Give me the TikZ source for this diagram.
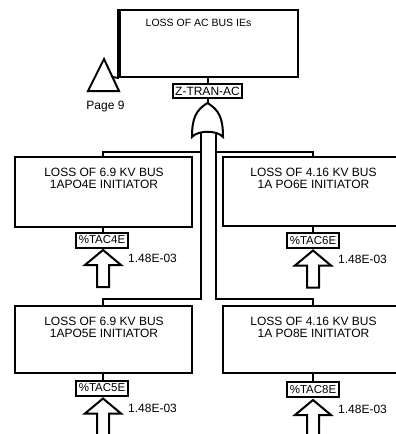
\documentclass[tikz,border=0pt]{standalone}
\usepackage{fontspec}
\setmainfont{Liberation Sans}
\begin{document}
\begin{tikzpicture}[x=1pt,y=-1pt,
  ln/.style={line width=2pt},
  box/.style={draw,line width=2pt,rectangle,inner sep=0pt},
  lbl/.style={draw,line width=2pt,inner sep=0pt,minimum width=52pt,minimum height=15pt,font=\fontsize{11.5}{12}\selectfont},
  txt/.style={font=\fontsize{12}{12}\selectfont,inner sep=0pt,align=center},
  prob/.style={font=\fontsize{12}{12}\selectfont,inner sep=0pt,anchor=west},
  xfer/.style={draw,line width=2pt,fill=white}
]
\useasboundingbox (0,0) rectangle (396,434);
\clip (0,0) rectangle (396,434);

% top event
\node[box,minimum width=178pt,minimum height=67pt] (top) at (209,43.5) {};
\draw[line width=3.2pt] (top.north west) -- (top.south west);
\node[txt,font=\fontsize{10.5}{12}\selectfont] (toptxt) at (198.5,23) {LOSS OF AC BUS IEs};

% transfer triangle
\coordinate (tri) at (104,59);
\draw[ln,line join=miter] (tri) -- (119,91) -- (88,91) -- cycle;
\coordinate (trim) at (112,77);
\draw[ln] (top.south west) -- (trim);
\node[txt] (pg) at (105.5,107) {Page 9};

% gate label
\node[lbl,minimum width=69pt,minimum height=14pt,font=\fontsize{12}{12}\selectfont] (ztran) at (207.5,91) {Z-TRAN-AC};
\draw[ln] (ztran.north) -- (ztran.north |- top.south);

% OR gate
\coordinate (gtop) at (207.5,103);
\draw[ln,fill=white] (gtop) .. controls (196,110) and (192,118) .. (192,137)
  .. controls (198,130) and (217,130) .. (223,137)
  .. controls (223,118) and (219,110) .. (gtop);
\draw[ln] (ztran.south) -- (gtop);
\coordinate (bl) at (201,132.5);
\coordinate (br) at (216,132.5);

% event boxes
\node[box,minimum width=177pt,minimum height=70pt] (A) at (103.5,192) {};
\node[box,minimum width=207pt,minimum height=69pt] (B) at (326.5,191.5) {};
\node[box,minimum width=177pt,minimum height=67pt] (C) at (103.5,339.5) {};
\node[box,minimum width=207pt,minimum height=67pt] (D) at (326.5,339.5) {};

\node[txt] (At) at (104,178) {LOSS OF 6.9 KV BUS\\1APO4E INITIATOR};
\node[txt] (Bt) at (313.5,178) {LOSS OF 4.16 KV BUS\\1A PO6E INITIATOR};
\node[txt] (Ct) at (104,327) {LOSS OF 6.9 KV BUS\\1APO5E INITIATOR};
\node[txt] (Dt) at (313.5,327) {LOSS OF 4.16 KV BUS\\1A PO8E INITIATOR};

% basic event labels
\node[lbl] (lA) at (102,240) {\%TAC4E};
\node[lbl] (lB) at (313,240.5) {\%TAC6E};
\node[lbl] (lC) at (102,388) {\%TAC5E};
\node[lbl] (lD) at (313,389.5) {\%TAC8E};

% arrow tips
\coordinate (tA) at (103,250);
\coordinate (tB) at (313,250.5);
\coordinate (tC) at (103,398.5);
\coordinate (tD) at (313,400);

\draw[ln] (A.south -| tA) -- (lA.north -| tA);
\draw[ln] (B.south -| lB) -- (lB.north);
\draw[ln] (C.south -| tC) -- (lC.north -| tC);
\draw[ln] (D.south -| lD) -- (lD.north);

% bus connectors
\coordinate (jA) at (201,152);
\coordinate (jC) at (201,299);
\coordinate (jB) at (216,152);
\coordinate (jD) at (216,299);
\draw[ln] (bl) -- (jC) -| (tC |- C.north);
\draw[ln] (jA) -| (tA |- A.north);
\draw[ln] (br) -- (jD) -| (lD |- D.north);
\draw[ln] (jB) -| (lB |- B.north);

% hollow input arrows
\draw[xfer] (tA) -- ++(18,15) -- ++(-12,0) -- ++(0,22) -- ++(-12,0) -- ++(0,-22) -- ++(-12,0) -- cycle;
\draw[xfer] (tB) -- ++(18,15) -- ++(-12,0) -- ++(0,22) -- ++(-12,0) -- ++(0,-22) -- ++(-12,0) -- cycle;
\draw[xfer] (tC) -- ++(18,15) -- ++(-12,0) -- ++(0,30) -- ++(-12,0) -- ++(0,-30) -- ++(-12,0) -- cycle;
\draw[xfer] (tD) -- ++(18,15) -- ++(-12,0) -- ++(0,30) -- ++(-12,0) -- ++(0,-30) -- ++(-12,0) -- cycle;

\node[prob] (pA) at (128,258) {1.48E-03};
\node[prob] (pB) at (338,259) {1.48E-03};
\node[prob] (pC) at (128,408) {1.48E-03};
\node[prob] (pD) at (338,409) {1.48E-03};
\end{tikzpicture}
\end{document}
